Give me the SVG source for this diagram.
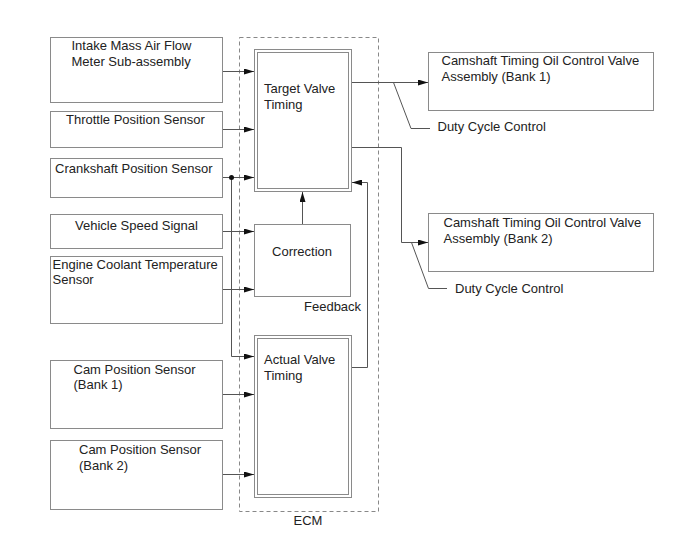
<svg xmlns="http://www.w3.org/2000/svg" width="688" height="560" viewBox="0 0 688 560">
<style>
.box{fill:#fff;stroke:#8a8a8a;stroke-width:1}
.dbl{fill:none;stroke:#8a8a8a;stroke-width:1}
.ln{fill:none;stroke:#555;stroke-width:1}
.ecm{fill:none;stroke:#888;stroke-width:1;stroke-dasharray:4,3}
text{font-family:"Liberation Sans",Arial,sans-serif;font-size:13px;fill:#222}
</style>
<defs>
<marker id="ah" viewBox="0 0 10 6" refX="10" refY="3" markerWidth="10" markerHeight="6" markerUnits="userSpaceOnUse" orient="auto">
<path d="M0,0 L10,3 L0,6 Z" fill="#111"/>
</marker>
</defs>
<rect width="688" height="560" fill="#fff"/>
<g id="ecm">
<rect class="ecm" x="239.5" y="37.5" width="139" height="474"/>
<text x="308" y="525" text-anchor="middle">ECM</text>
</g>
<g id="connectors">
<path class="ln" d="M222.5,71.5 H254" marker-end="url(#ah)"/>
<path class="ln" d="M222.5,129.5 H254" marker-end="url(#ah)"/>
<path class="ln" d="M222.5,177.5 H254" marker-end="url(#ah)"/>
<path class="ln" d="M231.5,177.5 V356.5 H254" marker-end="url(#ah)"/>
<circle cx="231.5" cy="177.5" r="2.5" fill="#111"/>
<path class="ln" d="M222.5,231.5 H254" marker-end="url(#ah)"/>
<path class="ln" d="M222.5,289.5 H254" marker-end="url(#ah)"/>
<path class="ln" d="M302.5,224 V192" marker-end="url(#ah)"/>
<path class="ln" d="M351,367.5 H367.5 V182.5 H352" marker-end="url(#ah)"/>
<path class="ln" d="M352,82.5 H428" marker-end="url(#ah)"/>
<path class="ln" d="M393.5,82.5 L411,128.5 H430"/>
<path class="ln" d="M352,147.5 H401.5 V242.5 H428" marker-end="url(#ah)"/>
<path class="ln" d="M411.5,242.5 L428.5,288.5 H447"/>
<path class="ln" d="M222.5,394.5 H254" marker-end="url(#ah)"/>
<path class="ln" d="M222.5,474.5 H254" marker-end="url(#ah)"/>
</g>
<g id="intake">
<rect class="box" x="50.5" y="37.5" width="172" height="65"/>
<text x="71.5" y="50">Intake Mass Air Flow</text>
<text x="71.5" y="66">Meter Sub-assembly</text>
</g>
<g id="throttle">
<rect class="box" x="50.5" y="111.5" width="172" height="36"/>
<text x="66" y="124">Throttle Position Sensor</text>
</g>
<g id="crank">
<rect class="box" x="50.5" y="158.5" width="172" height="39"/>
<text x="55" y="172.5">Crankshaft Position Sensor</text>
</g>
<g id="vehicle">
<rect class="box" x="50.5" y="214.5" width="172" height="34"/>
<text x="75" y="229.5">Vehicle Speed Signal</text>
</g>
<g id="coolant">
<rect class="box" x="50.5" y="256.5" width="172" height="67"/>
<text x="52.5" y="268.5">Engine Coolant Temperature</text>
<text x="52.5" y="283.5">Sensor</text>
</g>
<g id="cam1">
<rect class="box" x="50.5" y="360.5" width="172" height="68"/>
<text x="73.5" y="373.5">Cam Position Sensor</text>
<text x="73.5" y="389">(Bank 1)</text>
</g>
<g id="cam2">
<rect class="box" x="50.5" y="440.5" width="172" height="69"/>
<text x="79" y="454">Cam Position Sensor</text>
<text x="79" y="470">(Bank 2)</text>
</g>
<g id="target">
<rect class="dbl" x="254.5" y="49.5" width="97" height="142"/>
<rect class="dbl" x="257.5" y="52.5" width="91" height="136"/>
<text x="264" y="93">Target Valve</text>
<text x="264" y="108.5">Timing</text>
</g>
<g id="correction">
<rect class="box" x="254.5" y="224.5" width="96" height="72"/>
<text x="302" y="255.5" text-anchor="middle">Correction</text>
<text x="304" y="310.5">Feedback</text>
</g>
<g id="actual">
<rect class="dbl" x="254.5" y="335.5" width="97" height="162"/>
<rect class="dbl" x="257.5" y="338.5" width="91" height="156"/>
<text x="264" y="364">Actual Valve</text>
<text x="264" y="380">Timing</text>
</g>
<g id="ocv1">
<rect class="box" x="428.5" y="52.5" width="225" height="58"/>
<text x="441.5" y="65">Camshaft Timing Oil Control Valve</text>
<text x="441.5" y="81">Assembly (Bank 1)</text>
</g>
<g id="duty1">
<text x="437.5" y="131">Duty Cycle Control</text>
</g>
<g id="ocv2">
<rect class="box" x="428.5" y="213.5" width="225" height="58"/>
<text x="443.5" y="226.5">Camshaft Timing Oil Control Valve</text>
<text x="443.5" y="242.5">Assembly (Bank 2)</text>
</g>
<g id="duty2">
<text x="455" y="292.5">Duty Cycle Control</text>
</g>
</svg>
